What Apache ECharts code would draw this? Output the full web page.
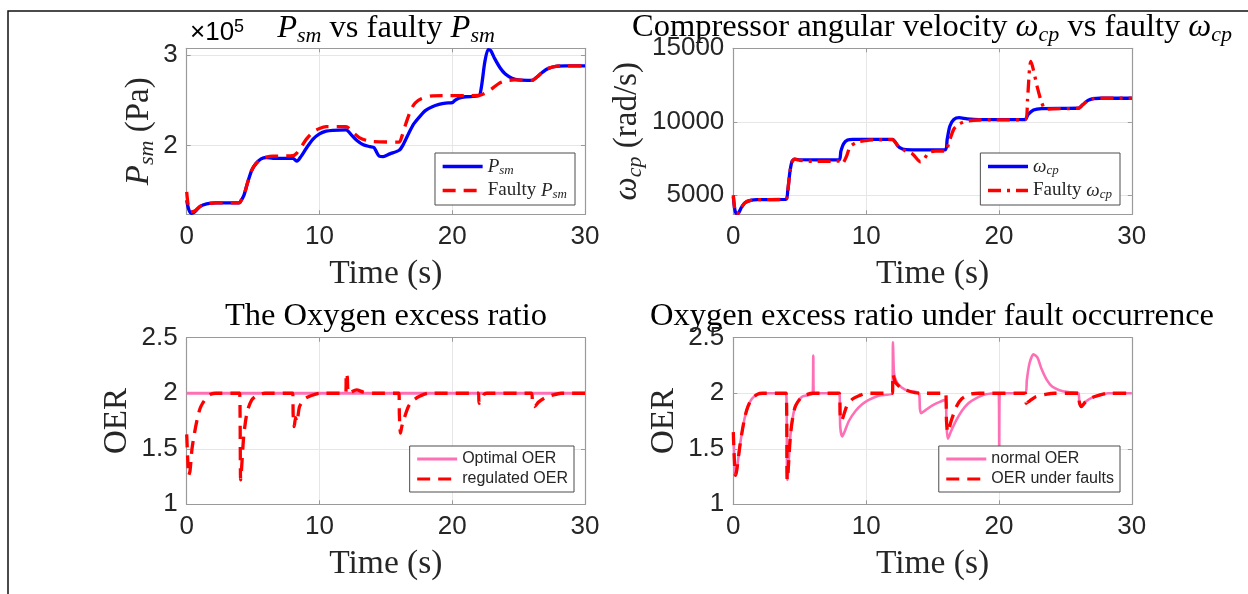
<!DOCTYPE html>
<html><head><meta charset="utf-8">
<script src="https://cdn.jsdelivr.net/npm/echarts@6/dist/echarts.min.js"></script>
<style>html,body{margin:0;padding:0;background:#fff}#c{width:1248px;height:594px}</style>
</head><body><div id="c"></div><script>
// ---------- data (time s, value) ----------
const timeTicks = [0, 10, 20, 30];
const psmTickLabels = ['2', '3'];          // x 10^5 Pa
const wcpTickLabels = ['5000', '10000', '15000'];
const oerTickLabels = ['1', '1.5', '2', '2.5'];

const psm = [[0,1.40e5],[0.15,1.30e5],[0.35,1.255e5],[0.6,1.27e5],[1.0,1.33e5],[1.5,1.36e5],[2.2,1.37e5],[3.9,1.37e5],[4.0,1.375e5],[4.3,1.45e5],[4.6,1.60e5],[4.9,1.73e5],[5.2,1.80e5],[5.6,1.855e5],[6.0,1.87e5],[6.5,1.86e5],[8.0,1.86e5],[8.3,1.83e5],[8.6,1.88e5],[9.0,1.97e5],[9.5,2.07e5],[10.0,2.13e5],[10.5,2.16e5],[11.0,2.17e5],[12.0,2.175e5],[12.4,2.12e5],[12.8,2.06e5],[13.3,2.01e5],[13.8,1.99e5],[14.1,1.98e5],[14.3,1.93e5],[14.5,1.885e5],[14.8,1.88e5],[15.3,1.91e5],[16.0,1.95e5],[16.3,2.01e5],[16.7,2.13e5],[17.1,2.24e5],[17.6,2.33e5],[18.0,2.39e5],[18.5,2.43e5],[19.0,2.455e5],[19.5,2.47e5],[20.0,2.475e5],[20.2,2.50e5],[20.5,2.525e5],[21.0,2.54e5],[22.0,2.55e5],[22.2,2.65e5],[22.45,2.92e5],[22.7,3.06e5],[22.9,3.05e5],[23.2,2.96e5],[23.6,2.86e5],[24.0,2.79e5],[24.5,2.745e5],[25.0,2.725e5],[26.0,2.72e5],[26.4,2.76e5],[26.8,2.81e5],[27.2,2.85e5],[27.8,2.875e5],[28.5,2.88e5],[30,2.88e5]];
const psmFaulty = [[0,1.49e5],[0.1,1.36e5],[0.3,1.27e5],[0.6,1.28e5],[1.0,1.33e5],[1.5,1.36e5],[2.2,1.37e5],[3.9,1.37e5],[4.0,1.375e5],[4.3,1.45e5],[4.6,1.60e5],[4.9,1.73e5],[5.2,1.80e5],[5.6,1.855e5],[6.0,1.875e5],[6.5,1.885e5],[8.0,1.89e5],[8.3,1.92e5],[8.6,1.98e5],[9.0,2.07e5],[9.5,2.15e5],[10.0,2.19e5],[10.5,2.21e5],[12.0,2.21e5],[12.5,2.15e5],[13.0,2.09e5],[13.5,2.06e5],[14.0,2.045e5],[16.0,2.04e5],[16.2,2.10e5],[16.5,2.24e5],[16.9,2.40e5],[17.2,2.47e5],[17.7,2.52e5],[18.5,2.55e5],[22.0,2.555e5],[22.5,2.58e5],[23.0,2.63e5],[23.5,2.685e5],[24.0,2.715e5],[24.7,2.725e5],[26.0,2.72e5],[26.4,2.76e5],[26.8,2.81e5],[27.2,2.85e5],[27.8,2.875e5],[28.5,2.88e5],[30,2.88e5]];

const wcp = [[0,4900],[0.1,4100],[0.2,3780],[0.35,3760],[0.6,4150],[0.9,4500],[1.3,4650],[1.8,4700],[3.95,4710],[4.1,5300],[4.25,6500],[4.4,7250],[4.6,7450],[4.9,7420],[7.95,7400],[8.1,8000],[8.3,8500],[8.6,8750],[9.0,8800],[12.0,8800],[12.2,8600],[12.5,8250],[13.0,8100],[15.95,8080],[16.1,8800],[16.3,9700],[16.6,10150],[17.0,10280],[17.6,10200],[18.5,10150],[21.95,10150],[22.2,10500],[22.6,10800],[23.2,10900],[26.0,10920],[26.3,11150],[26.7,11450],[27.1,11580],[27.6,11600],[30,11600]];
const wcpFaulty = [[0,5000],[0.1,4100],[0.2,3780],[0.35,3760],[0.6,4150],[0.9,4500],[1.3,4650],[1.8,4700],[3.95,4710],[4.1,5300],[4.25,6500],[4.4,7250],[4.6,7450],[5.0,7380],[6.0,7300],[7.0,7300],[8.0,7320],[8.2,7150],[8.5,7600],[8.8,8300],[9.3,8600],[10.0,8720],[10.5,8760],[12.0,8780],[12.2,8600],[12.5,8250],[13.0,8000],[13.5,7800],[14.1,7270],[14.4,7500],[14.7,7900],[15.2,8000],[16.0,8000],[16.2,8500],[16.6,9500],[17.0,9850],[17.6,10050],[18.5,10120],[22.0,10150],[22.15,11500],[22.3,13600],[22.4,14100],[22.6,13500],[22.9,12300],[23.2,11350],[23.5,10850],[24.0,10880],[26.0,10920],[26.3,11150],[26.7,11450],[27.1,11580],[27.6,11600],[30,11600]];

const oerOptimal = [[0,2.0],[30,2.0]];
const oerRegulated = [[0,1.63],[0.08,1.40],[0.15,1.26],[0.25,1.30],[0.4,1.50],[0.6,1.65],[0.8,1.77],[1.0,1.86],[1.2,1.91],[1.5,1.96],[1.8,1.99],[2.2,2.0],[3.98,2.0],[4.02,1.80],[4.06,1.22],[4.12,1.30],[4.3,1.62],[4.55,1.83],[4.9,1.94],[5.3,1.98],[5.9,2.0],[7.98,2.0],[8.02,1.80],[8.1,1.70],[8.2,1.78],[8.3,1.74],[8.5,1.88],[8.9,1.95],[9.4,1.98],[10,2.0],[11.98,2.0],[12.02,2.18],[12.1,2.14],[12.2,2.0],[12.8,2.03],[13.3,2.01],[14,2.0],[15.98,2.0],[16.02,1.80],[16.1,1.64],[16.2,1.70],[16.4,1.78],[16.7,1.88],[17.0,1.93],[17.5,1.97],[18.2,2.0],[21.98,2.0],[22.02,1.91],[22.2,1.93],[22.4,1.99],[22.6,2.0],[25.98,2.0],[26.05,1.90],[26.2,1.88],[26.5,1.92],[27,1.96],[27.5,1.98],[28.2,2.0],[30,2.0]];

const oerNormal = [[0,1.65],[0.08,1.40],[0.15,1.26],[0.25,1.30],[0.5,1.53],[0.7,1.68],[0.9,1.80],[1.1,1.88],[1.4,1.95],[1.8,1.99],[2.2,2.0],[3.98,2.0],[4.05,1.22],[4.1,1.25],[4.3,1.62],[4.5,1.80],[4.7,1.89],[5.2,1.97],[5.98,2.0],[6.02,2.34],[6.06,2.0],[7.98,2.0],[8.05,1.70],[8.2,1.61],[8.4,1.66],[8.7,1.75],[9.2,1.84],[9.7,1.90],[10.2,1.94],[11.0,1.98],[11.98,2.0],[12.02,2.46],[12.1,2.18],[12.3,2.10],[12.7,2.05],[13.2,2.02],[13.98,2.0],[14.05,1.86],[14.15,1.82],[14.5,1.85],[15.0,1.89],[15.5,1.92],[15.98,1.94],[16.05,1.72],[16.15,1.59],[16.4,1.66],[16.8,1.76],[17.2,1.84],[17.7,1.91],[18.2,1.95],[19.0,1.99],[19.98,2.0],[20.02,1.50],[20.06,2.0],[22.0,2.0],[22.1,2.12],[22.3,2.27],[22.6,2.35],[22.9,2.32],[23.2,2.22],[23.6,2.12],[24.0,2.06],[24.5,2.03],[25.2,2.01],[25.98,2.0],[26.05,1.92],[26.2,1.88],[26.5,1.92],[27.0,1.96],[27.5,1.98],[28.2,2.0],[30,2.0]];
const oerFaults = [[0,1.65],[0.08,1.40],[0.15,1.26],[0.25,1.30],[0.5,1.53],[0.7,1.68],[0.9,1.80],[1.1,1.88],[1.4,1.95],[1.8,1.99],[2.2,2.0],[3.98,2.0],[4.05,1.22],[4.1,1.25],[4.3,1.62],[4.5,1.80],[4.7,1.89],[5.2,1.97],[6.0,2.0],[7.98,2.0],[8.05,1.80],[8.15,1.75],[8.3,1.80],[8.6,1.90],[9.0,1.95],[9.5,1.98],[10.0,2.0],[11.98,2.0],[12.02,2.17],[12.2,2.10],[12.6,2.05],[13.2,2.02],[14.0,2.0],[15.98,2.0],[16.05,1.75],[16.15,1.65],[16.4,1.75],[16.8,1.88],[17.2,1.95],[17.8,1.99],[18.5,2.0],[21.98,2.0],[22.05,1.91],[22.3,1.93],[22.8,1.97],[23.5,1.99],[24.2,2.0],[25.98,2.0],[26.05,1.92],[26.2,1.88],[26.5,1.92],[27.0,1.96],[27.5,1.98],[28.2,2.0],[30,2.0]];

// ---------- styling ----------
const SERIF = "'Liberation Serif', 'Times New Roman', serif";
const SANS = "'Liberation Sans', Arial, Helvetica, sans-serif";
const TXT = '#262626';
const AXC = '#9a9a9a';
const GRIDC = '#e6e6e6';
const BLUE = '#0000ff', RED = '#ff0000', PINK = '#ff6fb5';

function bigRich(size, lh) {
  const L = lh || size + 5;
  return {
    n: {fontFamily: SERIF, fontSize: size, lineHeight: L, color: TXT},
    i: {fontFamily: SERIF, fontStyle: 'italic', fontSize: size, lineHeight: L, color: TXT},
    s: {fontFamily: SERIF, fontStyle: 'italic', fontSize: Math.round(size * 0.68), lineHeight: Math.round(L * 0.56), verticalAlign: 'bottom', color: TXT}
  };
}

const grids = [
  {left: 186.7, top: 48.3, width: 398.3, height: 166},
  {left: 733.3, top: 48.3, width: 398.5, height: 166},
  {left: 186.7, top: 337.7, width: 398.3, height: 166.6},
  {left: 733.3, top: 337.7, width: 398.5, height: 166.6}
];

const yRanges = [
  {min: 124400, max: 307400, split: 2, fmt: v => String(Math.round(v / 1e5))},
  {min: 3700, max: 15000, split: 2, fmt: v => String(v)},
  {min: 1, max: 2.5, interval: 0.5, fmt: v => String(v)},
  {min: 1, max: 2.5, interval: 0.5, fmt: v => String(v)}
];

const yNames = [
  {text: '{i|P}{s|sm}{n| (Pa)}', gap: 28},
  {text: '{i|ω}{s|cp}{n| (rad/s)}', gap: 87},
  {text: '{n|OER}', gap: 50},
  {text: '{n|OER}', gap: 50}
];

const xAxes = [], yAxes = [];
for (let g = 0; g < 4; g++) {
  xAxes.push({
    gridIndex: g, type: 'value', min: timeTicks[0], max: timeTicks[timeTicks.length - 1], interval: 10,
    position: 'bottom',
    axisLine: {show: true, onZero: false, lineStyle: {color: AXC, width: 1.2}},
    axisTick: {show: true, inside: true, length: 4, lineStyle: {color: AXC}},
    axisLabel: {color: TXT, fontFamily: SANS, fontSize: 26, margin: 10},
    splitLine: {show: true, lineStyle: {color: GRIDC, width: 1}},
    name: '{n|Time (s)}', nameLocation: 'middle', nameGap: 41,
    nameTextStyle: {rich: bigRich(33.5)}
  });
}
for (let g = 0; g < 4; g++) {
  xAxes.push({
    gridIndex: g, type: 'value', min: 0, max: 30, interval: 10, position: 'top',
    axisLine: {show: true, onZero: false, lineStyle: {color: AXC, width: 1.2}},
    axisTick: {show: true, inside: true, length: 4, lineStyle: {color: AXC}},
    axisLabel: {show: false}, splitLine: {show: false}
  });
}
for (let g = 0; g < 4; g++) {
  const r = yRanges[g];
  const ax = {
    gridIndex: g, type: 'value', min: r.min, max: r.max, position: 'left',
    axisLine: {show: true, onZero: false, lineStyle: {color: AXC, width: 1.2}},
    axisTick: {show: true, inside: true, length: 4, lineStyle: {color: AXC}},
    axisLabel: {color: TXT, fontFamily: SANS, fontSize: 26, margin: 9, formatter: r.fmt,
      showMinLabel: g >= 2, showMaxLabel: g >= 1},
    splitLine: {show: true, lineStyle: {color: GRIDC, width: 1}},
    name: yNames[g].text, nameLocation: 'middle', nameGap: yNames[g].gap, nameRotate: 90,
    nameTextStyle: {rich: bigRich(33)}
  };
  if (r.interval) ax.interval = r.interval; else ax.splitNumber = r.split;
  yAxes.push(ax);
}
for (let g = 0; g < 4; g++) {
  const r = yRanges[g];
  const ax = {
    gridIndex: g, type: 'value', min: r.min, max: r.max, position: 'right',
    axisLine: {show: true, onZero: false, lineStyle: {color: AXC, width: 1.2}},
    axisTick: {show: true, inside: true, length: 4, lineStyle: {color: AXC}},
    axisLabel: {show: false}, splitLine: {show: false}
  };
  if (r.interval) ax.interval = r.interval; else ax.splitNumber = r.split;
  yAxes.push(ax);
}

function line(name, data, g, color, width, type, z) {
  return {
    name, type: 'line', data, xAxisIndex: g, yAxisIndex: g, symbol: 'none', smooth: 0.25,
    lineStyle: {color, width, type}, itemStyle: {color}, z: z, animation: false, clip: true
  };
}

const series = [
  line('Psm', psm, 0, BLUE, 3.3, 'solid', 2),
  line('Faulty Psm', psmFaulty, 0, RED, 3.3, [13, 8], 3),
  line('wcp', wcp, 1, BLUE, 3.3, 'solid', 2),
  line('Faulty wcp', wcpFaulty, 1, RED, 3.3, [13, 6, 3, 6], 3),
  line('Optimal OER', oerOptimal, 2, PINK, 3, 'solid', 2),
  line('regulated OER', oerRegulated, 2, RED, 3.3, [13, 8], 3),
  line('normal OER', oerNormal, 3, PINK, 2.6, 'solid', 2),
  line('OER under faults', oerFaults, 3, RED, 3.3, [13, 8], 3)
];

const legendLabels = {
  'Psm': '{i|P}{s|sm}',
  'Faulty Psm': '{n|Faulty }{i|P}{s|sm}',
  'wcp': '{i|ω}{s|cp}',
  'Faulty wcp': '{n|Faulty }{i|ω}{s|cp}'
};
function legend(names, right, top, serif) {
  const l = {
    data: names, orient: 'vertical', right, top, selectedMode: false,
    backgroundColor: '#fff', borderColor: '#4d4d4d', borderWidth: 1, borderRadius: 0,
    itemWidth: 40, itemGap: 4, z: 10, itemStyle: {opacity: 0},
    lineStyle: {width: serif ? 3.3 : 3}
  };
  if (serif) {
    l.itemHeight = 18; l.padding = [4, 8, 4, 6];
    l.formatter = n => legendLabels[n];
    l.textStyle = {rich: bigRich(19, 21)};
  } else {
    l.itemHeight = 18; l.padding = [5, 6, 5, 6];
    l.textStyle = {fontFamily: SANS, fontSize: 16, color: TXT};
  }
  return l;
}

const titleRich = bigRich(32.5);
const graphic = [
  {type: 'rect', shape: {x: 8, y: 11, width: 1400, height: 800}, style: {fill: 'none', stroke: '#111', lineWidth: 1.5}, silent: true},
  {type: 'text', x: 190, y: 33, style: {text: '{a|×10}{b|5}', rich: {
      a: {fontFamily: SANS, fontSize: 26, lineHeight: 30, color: TXT},
      b: {fontFamily: SANS, fontSize: 18, lineHeight: 18, verticalAlign: 'top', color: TXT}},
    align: 'left', verticalAlign: 'middle'}},
  {type: 'text', x: 386, y: 28, style: {text: '{i|P}{s|sm}{n| vs faulty }{i|P}{s|sm}', rich: titleRich, align: 'center', verticalAlign: 'middle'}},
  {type: 'text', x: 932, y: 27, style: {text: '{n|Compressor angular velocity }{i|ω}{s|cp}{n| vs faulty }{i|ω}{s|cp}', rich: titleRich, align: 'center', verticalAlign: 'middle'}},
  {type: 'text', x: 386, y: 316, style: {text: '{n|The Oxygen excess ratio}', rich: titleRich, align: 'center', verticalAlign: 'middle'}},
  {type: 'text', x: 932, y: 316, style: {text: '{n|Oxygen excess ratio under fault occurrence}', rich: titleRich, align: 'center', verticalAlign: 'middle'}}
];

const chart = echarts.init(document.getElementById('c'), null, {renderer: 'canvas'});
chart.setOption({
  backgroundColor: '#fff',
  animation: false,
  grid: grids,
  xAxis: xAxes,
  yAxis: yAxes,
  legend: [
    legend(['Psm', 'Faulty Psm'], 673, 153, true),
    legend(['wcp', 'Faulty wcp'], 128, 153, true),
    legend(['Optimal OER', 'regulated OER'], 674, 446, false),
    legend(['normal OER', 'OER under faults'], 128, 446, false)
  ],
  series,
  graphic
});
</script></body></html>
